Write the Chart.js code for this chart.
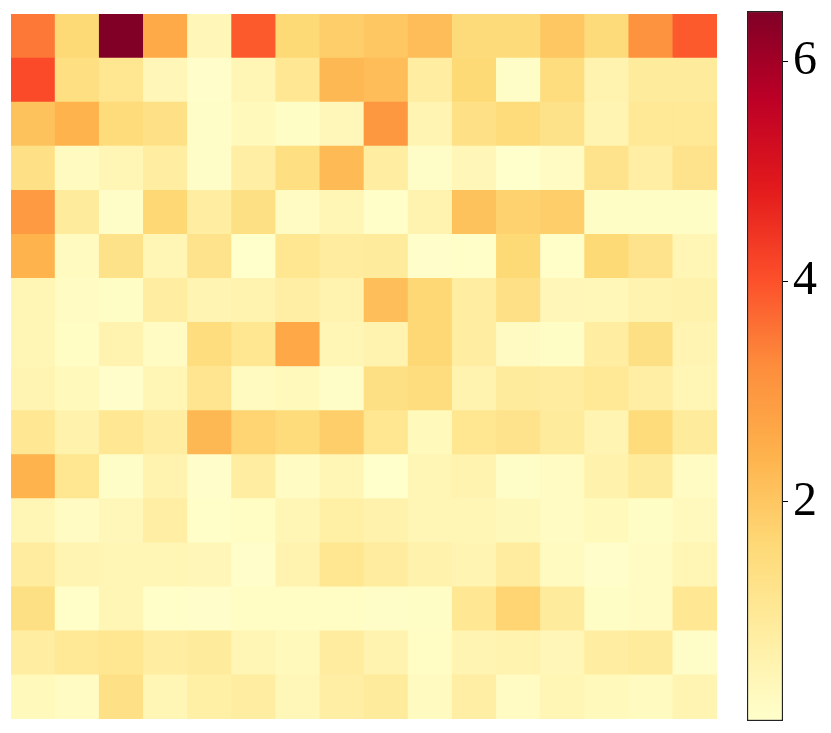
<!DOCTYPE html>
<html>
<head>
<meta charset="utf-8">
<script src="https://cdn.jsdelivr.net/npm/chart.js@4/dist/chart.umd.min.js"></script>
<style>
    html, body { margin: 0; padding: 0; background: #ffffff; }
    #wrap { position: relative; width: 831px; height: 733px; }
    #heat { position: absolute; left: 0; top: 0; }
    #cbar { position: absolute; left: 730px; top: 0; }
</style>
</head>
<body>
<div id="wrap">
    <canvas id="heat" width="730" height="733"></canvas>
    <canvas id="cbar" width="101" height="733"></canvas>
</div>
<script>
// Grid values, top row first
const row00 = [3.5, 1.6, 6.46, 2.6, 0.4, 3.9, 1.6, 1.85, 2.0, 2.2, 1.55, 1.55, 2.0, 1.55, 3.1, 3.9];
const row01 = [4.1, 1.4, 1.1, 0.4, 0.05, 0.45, 1.05, 2.3, 2.2, 0.8, 1.6, 0.1, 1.45, 0.55, 0.9, 0.9];
const row02 = [2.1, 2.4, 1.5, 1.3, 0.1, 0.3, 0.12, 0.35, 3.0, 0.5, 1.3, 1.5, 1.25, 0.5, 1.0, 1.0];
const row03 = [1.3, 0.25, 0.45, 0.8, 0.1, 0.75, 1.4, 2.25, 0.8, 0.1, 0.4, 0.03, 0.2, 1.2, 0.75, 1.2];
const row04 = [2.95, 0.9, 0.1, 1.65, 0.8, 1.35, 0.2, 0.45, 0.07, 0.55, 2.1, 1.75, 1.85, 0.12, 0.12, 0.12];
const row05 = [2.4, 0.25, 1.25, 0.45, 1.2, 0.02, 1.1, 0.85, 0.9, 0.05, 0.06, 1.6, 0.08, 1.6, 1.2, 0.42];
const row06 = [0.45, 0.2, 0.12, 0.8, 0.5, 0.55, 0.75, 0.55, 2.15, 1.65, 0.8, 1.3, 0.4, 0.38, 0.55, 0.6];
const row07 = [0.45, 0.15, 0.55, 0.2, 1.45, 1.1, 2.65, 0.45, 0.55, 1.65, 0.8, 0.22, 0.12, 0.8, 1.35, 0.5];
const row08 = [0.5, 0.3, 0.05, 0.42, 1.15, 0.25, 0.3, 0.1, 1.35, 1.45, 0.55, 0.9, 0.85, 1.0, 0.75, 0.45];
const row09 = [1.05, 0.6, 1.05, 0.8, 2.3, 1.7, 1.5, 1.85, 1.1, 0.3, 1.1, 1.2, 0.9, 0.5, 1.5, 0.9];
const row10 = [2.4, 1.1, 0.1, 0.55, 0.04, 0.8, 0.2, 0.42, 0.03, 0.45, 0.55, 0.1, 0.18, 0.6, 0.9, 0.2];
const row11 = [0.42, 0.2, 0.35, 0.75, 0.07, 0.15, 0.42, 0.7, 0.6, 0.45, 0.42, 0.32, 0.2, 0.3, 0.12, 0.28];
const row12 = [0.85, 0.5, 0.42, 0.42, 0.4, 0.05, 0.55, 1.1, 0.85, 0.6, 0.5, 0.85, 0.25, 0.05, 0.18, 0.45];
const row13 = [1.35, 0.08, 0.45, 0.08, 0.05, 0.15, 0.15, 0.15, 0.1, 0.12, 1.05, 1.7, 0.9, 0.12, 0.18, 1.05];
const row14 = [0.8, 1.0, 1.1, 0.8, 0.9, 0.45, 0.3, 0.85, 0.55, 0.15, 0.5, 0.55, 0.4, 0.8, 0.9, 0.1];
const row15 = [0.3, 0.2, 1.3, 0.45, 0.7, 0.8, 0.38, 0.75, 0.9, 0.25, 0.75, 0.2, 0.45, 0.3, 0.25, 0.5];

const rows = [row00, row01, row02, row03, row04, row05, row06, row07,
              row08, row09, row10, row11, row12, row13, row14, row15];
const columns = ['0', '1', '2', '3', '4', '5', '6', '7', '8', '9', '10', '11', '12', '13', '14', '15'];

const colorMin = 0.01;
const colorMax = 6.46;
const colorTicks = [2, 4, 6];

// matplotlib YlOrRd
const ylOrRd = ['#ffffcc', '#ffeda0', '#fed976', '#feb24c', '#fd8d3c', '#fc4e2a', '#e31a1c', '#bd0026', '#800026'];

function hexToRgb(hex) {
    return [parseInt(hex.slice(1, 3), 16), parseInt(hex.slice(3, 5), 16), parseInt(hex.slice(5, 7), 16)];
}

function colorFor(v) {
    let t = (v - colorMin) / (colorMax - colorMin);
    t = Math.max(0, Math.min(1, t));
    const pos = t * (ylOrRd.length - 1);
    const i = Math.min(Math.floor(pos), ylOrRd.length - 2);
    const f = pos - i;
    const a = hexToRgb(ylOrRd[i]);
    const b = hexToRgb(ylOrRd[i + 1]);
    const c = a.map((x, k) => Math.round(x + (b[k] - x) * f));
    return `rgb(${c[0]}, ${c[1]}, ${c[2]})`;
}

// Each row is one stacked dataset; the bottom row goes first
const heatDatasets = rows.slice().reverse().map((row, k) => ({
    label: 'row ' + (15 - k),
    data: row.map(() => 1),
    backgroundColor: row.map(colorFor),
    borderWidth: 0,
    barPercentage: 1,
    categoryPercentage: 1
}));

new Chart(document.getElementById('heat'), {
    type: 'bar',
    data: { labels: columns, datasets: heatDatasets },
    options: {
        responsive: false,
        animation: false,
        devicePixelRatio: 1,
        layout: { padding: { left: 11, top: 14, right: 13, bottom: 14 } },
        plugins: { legend: { display: false }, tooltip: { enabled: false } },
        scales: {
            x: { stacked: true, display: false },
            y: { stacked: true, display: false, min: 0, max: rows.length }
        }
    }
});

// Colour bar
new Chart(document.getElementById('cbar'), {
    type: 'bar',
    data: {
        labels: ['scale'],
        datasets: [{
            data: [[colorMin, colorMax]],
            backgroundColor: function(context) {
                const chart = context.chart;
                const area = chart.chartArea;
                if (!area) return ylOrRd[0];
                const y = chart.scales.y;
                const g = chart.ctx.createLinearGradient(0, y.getPixelForValue(colorMin), 0, y.getPixelForValue(colorMax));
                ylOrRd.forEach((c, i) => g.addColorStop(i / (ylOrRd.length - 1), c));
                return g;
            },
            borderColor: '#222222',
            borderWidth: 1.5,
            borderSkipped: false,
            barPercentage: 1,
            categoryPercentage: 1
        }]
    },
    options: {
        responsive: false,
        animation: false,
        devicePixelRatio: 1,
        layout: { padding: { left: 17, top: 11, right: 0, bottom: 12 } },
        plugins: { legend: { display: false }, tooltip: { enabled: false } },
        scales: {
            x: { display: false },
            y: {
                position: 'right',
                min: colorMin,
                max: colorMax,
                afterFit: function(scale) {
                    scale.width = 48;
                    scale.paddingTop = 0;
                    scale.paddingBottom = 0;
                },
                afterBuildTicks: function(scale) {
                    scale.ticks = colorTicks.map(v => ({ value: v }));
                },
                border: { display: false },
                grid: {
                    drawOnChartArea: false,
                    drawTicks: true,
                    tickLength: 5,
                    tickWidth: 1,
                    tickColor: '#000000'
                },
                ticks: {
                    padding: 5,
                    color: '#000000',
                    font: { family: "'Liberation Serif', 'Times New Roman', serif", size: 48 }
                }
            }
        }
    }
});
</script>
</body>
</html>
